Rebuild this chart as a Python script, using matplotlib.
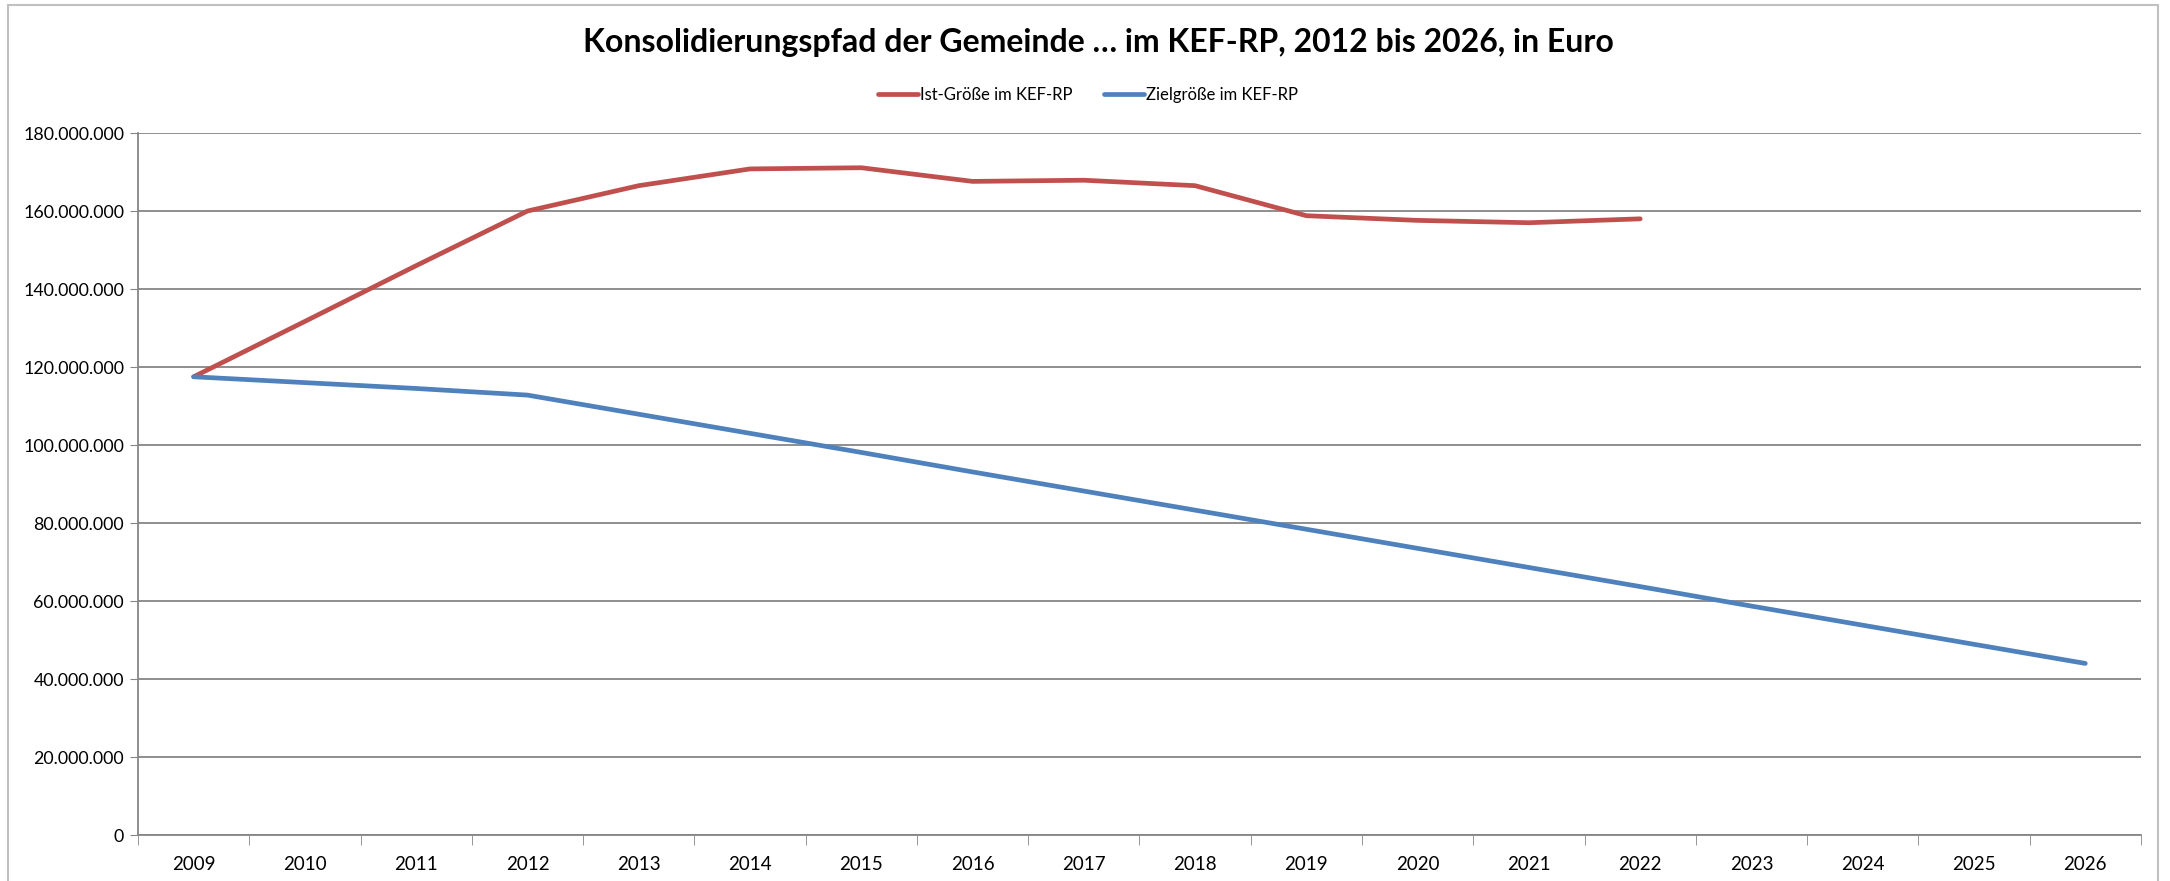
import matplotlib
matplotlib.use("Agg")
import matplotlib.pyplot as plt
from matplotlib.ticker import FuncFormatter, FixedLocator
from matplotlib.patches import Rectangle

# Daten
jahre = [str(j) for j in range(2009, 2027)]
ist_groesse = [117.5, 131.7, 146.0, 160.0, 166.5, 170.8, 171.1, 167.6, 167.9, 166.5,
               158.8, 157.6, 157.0, 158.0]  # Mio. Euro, 2009-2022
ziel_groesse = [117.5, 116.0, 114.5, 112.8, 107.9, 103.0, 98.1, 93.1, 88.2, 83.3,
                78.4, 73.5, 68.6, 63.7, 58.7, 53.8, 48.9, 44.0]  # Mio. Euro, 2009-2026
y_ticks = [0, 20, 40, 60, 80, 100, 120, 140, 160, 180]
serien_namen = ["Ist-Größe im KEF-RP", "Zielgröße im KEF-RP"]

plt.rcParams["font.family"] = ["Lato", "DejaVu Sans"]

fig = plt.figure(figsize=(21.7, 8.81), dpi=100)
ax = fig.add_axes([0.0636, 0.0522, 0.9230, 0.7968])

# Rahmen um das Diagramm (wie Excel)
fig.patches.append(Rectangle((0.0037, -0.1), 0.9906, 1.094, transform=fig.transFigure,
                             fill=False, edgecolor="#c0c0c0", linewidth=1.5))

rot = "#C0504D"
blau = "#4F81BD"
x_ist = list(range(len(ist_groesse)))
x_ziel = list(range(len(ziel_groesse)))
ax.plot(x_ist, [v * 1e6 for v in ist_groesse], color=rot, lw=3.4, label=serien_namen[0],
        solid_capstyle="round", solid_joinstyle="round")
ax.plot(x_ziel, [v * 1e6 for v in ziel_groesse], color=blau, lw=3.4, label=serien_namen[1],
        solid_capstyle="round", solid_joinstyle="round")

ax.set_xlim(-0.5, len(jahre) - 0.5)
ax.set_ylim(0, 180e6)
ax.set_yticks([v * 1e6 for v in y_ticks])
ax.yaxis.set_major_formatter(FuncFormatter(lambda v, p: f"{int(v):,}".replace(",", ".")))
ax.yaxis.grid(True, color="#868686", lw=1.3)
ax.set_axisbelow(True)

ax.set_xticks(range(len(jahre)))
ax.set_xticklabels(jahre)
ax.xaxis.set_minor_locator(FixedLocator([i - 0.5 for i in range(len(jahre) + 1)]))
ax.tick_params(axis="x", which="major", length=0, pad=15, labelsize=13.5)
ax.tick_params(axis="x", which="minor", length=7, color="#868686")
ax.tick_params(axis="y", length=6, color="#868686", labelsize=12.8, pad=4)

for s in ["top", "right"]:
    ax.spines[s].set_visible(False)
for s in ["left", "bottom"]:
    ax.spines[s].set_color("#868686")
    ax.spines[s].set_linewidth(1.3)

fig.text(0.506, 0.952, "Konsolidierungspfad der Gemeinde … im KEF-RP, 2012 bis 2026, in Euro",
         ha="center", va="center", fontsize=23, fontweight="bold")

fig.legend(loc="center", bbox_to_anchor=(0.5014, 0.892), ncol=2, frameon=False,
           fontsize=12, handlelength=2.4, handletextpad=0.1, columnspacing=1.9)

fig.savefig("out.png", dpi=100, facecolor="white")
